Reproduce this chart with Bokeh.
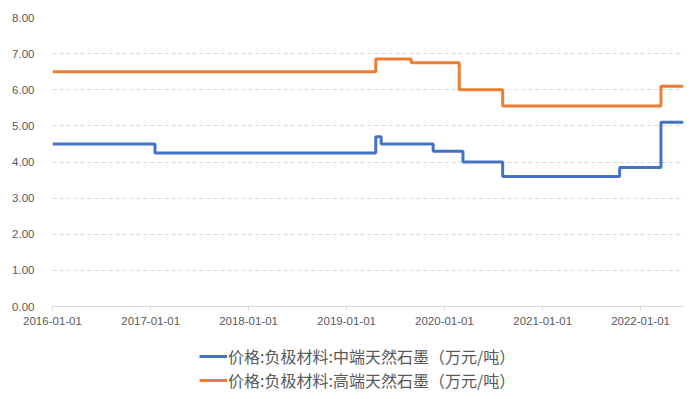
import pandas as pd
from bokeh.plotting import figure
from bokeh.layouts import column
from bokeh.models import (Legend, LegendItem, FixedTicker, DatetimeTickFormatter,
                          CustomJSTickFormatter, Range1d)
from bokeh.embed import file_html
from bokeh.resources import INLINE

# ---- data ----
mid_dates = ["2016-01-01", "2017-01-17", "2019-04-20", "2019-05-10", "2019-11-20",
             "2020-03-10", "2020-08-05", "2021-10-15", "2022-03-18", "2022-06-10"]
mid_values = [4.50, 4.25, 4.70, 4.50, 4.30, 4.00, 3.60, 3.85, 5.10, 5.10]

high_dates = ["2016-01-01", "2019-04-20", "2019-08-30", "2020-02-25", "2020-08-05",
              "2022-03-18", "2022-06-10"]
high_values = [6.50, 6.85, 6.75, 6.00, 5.55, 6.10, 6.10]

x_tick_labels = ["2016-01-01", "2017-01-01", "2018-01-01", "2019-01-01",
                 "2020-01-01", "2021-01-01", "2022-01-01"]
y_ticks = [0, 1, 2, 3, 4, 5, 6, 7, 8]

series_names = ["价格:负极材料:中端天然石墨（万元/吨）", "价格:负极材料:高端天然石墨（万元/吨）"]
colors = ["#4472C4", "#ED7D31"]

# ---- figure ----
def ms(d):
    return pd.Timestamp(d).value / 1e6

x_start = ms("2016-01-01")
x_end = ms("2022-06-10")

p = figure(width=693, height=340, x_axis_type="datetime",
           output_backend="svg", toolbar_location=None,
           x_range=Range1d(x_start, x_end), y_range=Range1d(0, 8),
           min_border_top=17, min_border_left=52, min_border_right=10,
           min_border_bottom=34)
p.outline_line_color = None
p.background_fill_color = "white"
p.border_fill_color = "white"

mid_x = [pd.Timestamp(d) for d in mid_dates]
high_x = [pd.Timestamp(d) for d in high_dates]

p.step(mid_x, mid_values, mode="after", line_color=colors[0], line_width=3)
p.step(high_x, high_values, mode="after", line_color=colors[1], line_width=3)

# x axis
xa = p.xaxis[0]
xa.ticker = FixedTicker(ticks=[ms(d) for d in x_tick_labels])
xa.formatter = DatetimeTickFormatter(days="%Y-%m-%d", months="%Y-%m-%d",
                                     years="%Y-%m-%d")
xa.axis_line_color = "#D9D9D9"
xa.major_tick_line_color = "#D9D9D9"
xa.major_tick_in = 0
xa.major_tick_out = 4
xa.minor_tick_line_color = None
xa.major_label_text_color = "#595959"
xa.major_label_text_font = "Liberation Sans"
xa.major_label_text_font_size = "11.5px"
xa.major_label_standoff = 6

# y axis
ya = p.yaxis[0]
ya.ticker = FixedTicker(ticks=y_ticks)
ya.formatter = CustomJSTickFormatter(code="return tick.toFixed(2);")
ya.axis_line_color = None
ya.major_tick_line_color = None
ya.minor_tick_line_color = None
ya.major_label_text_color = "#595959"
ya.major_label_text_font = "Liberation Sans"
ya.major_label_text_font_size = "11.5px"
ya.major_label_standoff = 12

p.xgrid.grid_line_color = None
p.ygrid.grid_line_color = "#D9D9D9"
p.ygrid.grid_line_dash = "4 3"
p.ygrid.grid_line_width = 1

# ---- legend strip (same series, drawn outside its visible range) ----
lg = figure(width=693, height=59, x_axis_type="datetime",
            output_backend="svg", toolbar_location=None,
            x_range=Range1d(x_start, x_end), y_range=Range1d(100, 101),
            min_border=0)
lg.axis.visible = False
lg.grid.visible = False
lg.outline_line_color = None
lr_mid = lg.step(mid_x, mid_values, mode="after", line_color=colors[0], line_width=3)
lr_high = lg.step(high_x, high_values, mode="after", line_color=colors[1], line_width=3)

legend = Legend(items=[LegendItem(label=series_names[0], renderers=[lr_mid]),
                       LegendItem(label=series_names[1], renderers=[lr_high])],
                location=(147, 7), orientation="vertical",
                label_text_font="Noto Sans CJK SC", label_text_font_size="16px",
                label_text_color="#595959", glyph_width=28, glyph_height=20,
                label_height=20, label_standoff=1, spacing=0, padding=2,
                margin=0, border_line_color=None, background_fill_alpha=0)
lg.add_layout(legend, "center")

layout = column(p, lg, spacing=0)
open("out.html", "w").write(file_html(layout, INLINE))
